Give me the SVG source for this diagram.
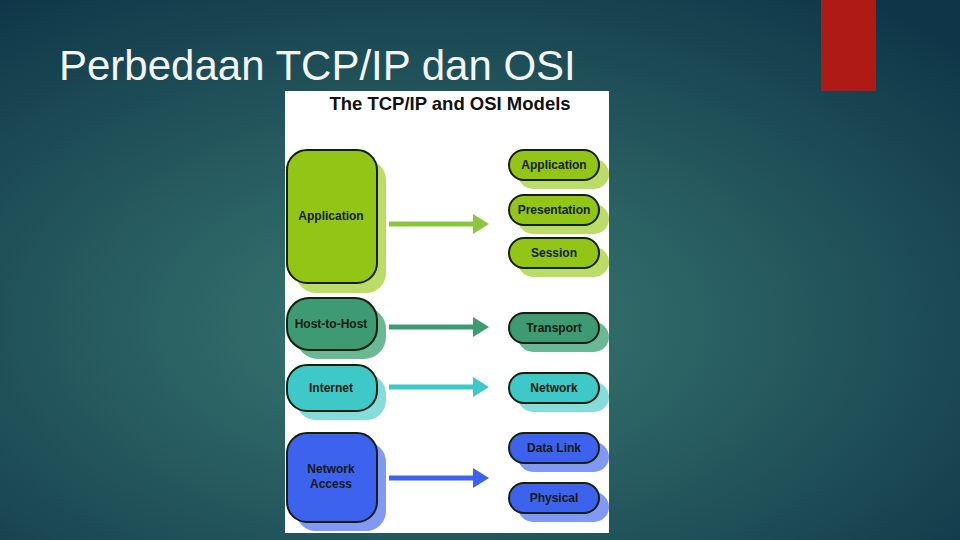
<svg xmlns="http://www.w3.org/2000/svg" width="960" height="540" viewBox="0 0 960 540">
<defs>
<radialGradient id="bg" cx="0.45" cy="0.6" r="0.75">
<stop offset="0" stop-color="#3a7a72"/>
<stop offset="0.5" stop-color="#25595e"/>
<stop offset="1" stop-color="#0f3648"/>
</radialGradient>
<marker id="ahG" markerWidth="4" markerHeight="4" refX="2" refY="2" orient="auto" markerUnits="strokeWidth"><path d="M0,0 L3.2,2 L0,4 Z" fill="#8cc63f"/></marker>
<marker id="ahD" markerWidth="4" markerHeight="4" refX="2" refY="2" orient="auto" markerUnits="strokeWidth"><path d="M0,0 L3.2,2 L0,4 Z" fill="#3d9a72"/></marker>
<marker id="ahC" markerWidth="4" markerHeight="4" refX="2" refY="2" orient="auto" markerUnits="strokeWidth"><path d="M0,0 L3.2,2 L0,4 Z" fill="#3ec8c8"/></marker>
<marker id="ahB" markerWidth="4" markerHeight="4" refX="2" refY="2" orient="auto" markerUnits="strokeWidth"><path d="M0,0 L3.2,2 L0,4 Z" fill="#3d63ee"/></marker>
</defs>
<style>
.lbl{font-family:"Liberation Sans",Arial,sans-serif;font-weight:bold;font-size:12px;fill:#141a10;text-anchor:middle}
.box{stroke:#14200e;stroke-width:2}
.g1{fill:#92c516}.g1s{fill:#bcdc6a}
.g2{fill:#3d9a72}.g2s{fill:#6ab894}
.g3{fill:#3ec8c8}.g3s{fill:#86dcd8}
.g4{fill:#3d63ee}.g4s{fill:#8198f4}
.arr{stroke-width:5;fill:none}
</style>
<rect width="960" height="540" fill="url(#bg)"/>
<rect x="821" y="0" width="55" height="91" fill="#b01a16"/>
<text x="59" y="80" font-family="Liberation Sans,Arial,sans-serif" font-size="42" fill="#f2f4f4">Perbedaan TCP/IP dan OSI</text>
<rect x="285" y="91" width="324" height="442" fill="#ffffff"/>
<text x="450" y="110" font-family="Liberation Sans,Arial,sans-serif" font-weight="bold" font-size="18.5" fill="#111" text-anchor="middle">The TCP/IP and OSI Models</text>

<g id="tcp-application">
<rect x="296" y="160" width="90" height="133" rx="20" class="g1s"/>
<rect x="287" y="150" width="90" height="133" rx="20" class="box g1"/>
<text x="331" y="220" class="lbl">Application</text>
</g>
<g id="tcp-host">
<rect x="296" y="307" width="90" height="52" rx="22" class="g2s"/>
<rect x="287" y="298" width="90" height="52" rx="22" class="box g2"/>
<text x="331" y="328" class="lbl">Host-to-Host</text>
</g>
<g id="tcp-internet">
<rect x="296" y="374" width="90" height="46" rx="20" class="g3s"/>
<rect x="287" y="365" width="90" height="46" rx="20" class="box g3"/>
<text x="331" y="392" class="lbl">Internet</text>
</g>
<g id="tcp-netaccess">
<rect x="296" y="442" width="90" height="89" rx="20" class="g4s"/>
<rect x="287" y="433" width="90" height="89" rx="20" class="box g4"/>
<text x="331" y="473" class="lbl">Network</text>
<text x="331" y="488" class="lbl">Access</text>
</g>

<g id="osi-application">
<rect x="518" y="159" width="91" height="30" rx="15" class="g1s"/>
<rect x="509" y="150" width="90" height="30" rx="15" class="box g1"/>
<text x="554" y="169" class="lbl">Application</text>
</g>
<g id="osi-presentation">
<rect x="518" y="204" width="91" height="30" rx="15" class="g1s"/>
<rect x="509" y="195" width="90" height="30" rx="15" class="box g1"/>
<text x="554" y="214" class="lbl">Presentation</text>
</g>
<g id="osi-session">
<rect x="518" y="247" width="91" height="30" rx="15" class="g1s"/>
<rect x="509" y="238" width="90" height="30" rx="15" class="box g1"/>
<text x="554" y="257" class="lbl">Session</text>
</g>
<g id="osi-transport">
<rect x="518" y="322" width="91" height="30" rx="15" class="g2s"/>
<rect x="509" y="313" width="90" height="30" rx="15" class="box g2"/>
<text x="554" y="332" class="lbl">Transport</text>
</g>
<g id="osi-network">
<rect x="518" y="382" width="91" height="30" rx="15" class="g3s"/>
<rect x="509" y="373" width="90" height="30" rx="15" class="box g3"/>
<text x="554" y="392" class="lbl">Network</text>
</g>
<g id="osi-datalink">
<rect x="518" y="442" width="91" height="30" rx="15" class="g4s"/>
<rect x="509" y="433" width="90" height="30" rx="15" class="box g4"/>
<text x="554" y="452" class="lbl">Data Link</text>
</g>
<g id="osi-physical">
<rect x="518" y="492" width="91" height="30" rx="15" class="g4s"/>
<rect x="509" y="483" width="90" height="30" rx="15" class="box g4"/>
<text x="554" y="502" class="lbl">Physical</text>
</g>

<g id="connectors">
<line x1="389" y1="224" x2="483" y2="224" class="arr" stroke="#8cc63f" marker-end="url(#ahG)"/>
<line x1="389" y1="327" x2="483" y2="327" class="arr" stroke="#3d9a72" marker-end="url(#ahD)"/>
<line x1="389" y1="387" x2="483" y2="387" class="arr" stroke="#3ec8c8" marker-end="url(#ahC)"/>
<line x1="389" y1="478" x2="483" y2="478" class="arr" stroke="#3d63ee" marker-end="url(#ahB)"/>
</g>
</svg>
